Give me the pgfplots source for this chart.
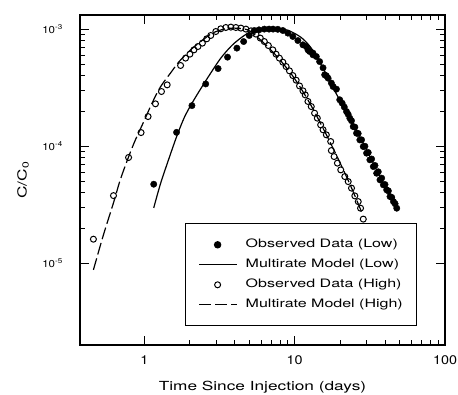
\documentclass[border=0pt]{standalone}
\usepackage{pgfplots}
\pgfplotsset{compat=1.18}
\usepackage{fontspec}
\setmainfont{TeX Gyre Heros}[FakeStretch=1.38]
\newfontfamily\tickfont{TeX Gyre Heros}[FakeStretch=1.15]
\begin{document}
\begin{tikzpicture}
\useasboundingbox (-80pt,-50pt) rectangle (378pt,345pt);
\begin{axis}[
  at={(0,0)}, anchor=south west,
  xmode=log, ymode=log,
  scale only axis, width=365pt, height=330pt,
  xmin=0.373, xmax=100, ymin=2e-6, ymax=1.32e-3,
  axis line style={line width=1.4pt},
  every tick/.style={black, line width=0.8pt},
  major tick length=9pt, minor tick length=5pt,
  tick align=inside, tick pos=both,
  xtick={1,10,100}, xticklabels={1,10,100},
  ytick={1e-5,1e-4,1e-3},
  yticklabels={10\textsuperscript{-5},10\textsuperscript{-4},10\textsuperscript{-3}},
  xticklabel style={font=\tickfont\fontsize{12.5}{14}\selectfont, anchor=base, yshift=-19pt},
  yticklabel style={font=\tickfont\fontsize{10}{12}\selectfont, anchor=east, inner sep=0pt, xshift=-17pt},
  xlabel={Time Since Injection (days)},
  ylabel={C/C\textsubscript{0}},
  label style={font=\fontsize{12.5}{15}\selectfont},
  xlabel style={at={(axis description cs:0.5,-0.1385)}, anchor=base},
  ylabel style={at={(axis description cs:-0.156,0.5)}, anchor=center},
  legend cell align=left,
  legend image code/.code={\draw[mark repeat=2,mark phase=2,#1] plot coordinates {(0pt,0pt) (18.5pt,0pt) (37pt,0pt)};},
  legend style={at={(rel axis cs:0.2877,0.3688)}, anchor=north west,
    draw=black, line width=1pt, font=\fontsize{11.6}{14}\selectfont,
    inner xsep=13pt, inner ysep=14pt, row sep=6pt, column sep=8pt,
    nodes={inner sep=1pt, text height=9pt, text depth=3pt}},
]
% Observed Data (Low)
\addplot[only marks, mark=*, mark size=3.2pt, black] coordinates {
(1.154,4.73e-5) (1.637,1.312e-4) (2.072,2.22e-4) (2.559,3.40e-4) (3.093,4.60e-4)
(3.574,5.76e-4) (4.125,6.88e-4) (4.574,7.83e-4) (4.985,8.82e-4) (5.384,9.73e-4)
(5.788,9.86e-4) (6.281,1.0e-3) (6.751,1.0e-3) (7.180,1.0e-3) (7.72,9.96e-4)
(8.34,9.73e-4) (9.01,9.24e-4) (9.72,8.65e-4) (10.50,7.99e-4) (11.34,7.34e-4)
(11.94,7.10e-4) (12.25,6.65e-4) (12.56,6.44e-4) (13.23,6.24e-4) (13.23,6.03e-4)
(13.93,5.83e-4) (14.65,5.28e-4) (15.44,4.67e-4) (15.83,4.07e-4)
(16.24,3.99e-4) (16.68,3.81e-4) (17.54,3.46e-4) (18.01,3.23e-4) (18.95,3.07e-4) (19.94,2.49e-4)
(20.69,2.33e-4) (21.38,2.158e-4) (22.11,1.977e-4) (22.68,1.873e-4) (23.26,1.735e-4)
(23.88,1.650e-4) (24.51,1.47e-4) (25.14,1.454e-4) (25.79,1.29e-4) (26.45,1.284e-4)
(27.13,1.13e-4) (27.86,1.132e-4) (28.59,9.92e-5) (29.33,9.98e-5) (30.08,8.71e-5)
(30.86,8.82e-5) (31.64,7.64e-5) (32.49,7.77e-5) (33.36,6.69e-5) (34.20,6.84e-5)
(35.10,5.87e-5) (35.98,6.04e-5) (36.92,5.15e-5) (37.90,5.33e-5) (38.90,4.67e-5)
(39.90,4.70e-5) (40.93,4.23e-5) (42.00,4.15e-5) (43.07,3.71e-5) (44.21,3.65e-5)
(45.41,3.36e-5) (46.55,3.22e-5) (47.75,2.95e-5)
};
\addlegendentry{Observed Data (Low)}
% Multirate Model (Low)
\addplot[black, line width=1.2pt, smooth] coordinates {
(1.154,2.97e-5) (1.279,4.76e-5) (1.447,7.64e-5) (1.637,1.201e-4) (1.852,1.779e-4)
(2.137,2.486e-4) (2.627,3.81e-4) (3.224,5.65e-4) (3.860,7.34e-4) (4.616,8.82e-4)
(5.384,9.86e-4) (6.281,1.02e-3) (7.325,1.02e-3) (9.01,9.77e-4) (11.05,8.48e-4)
(12.89,6.88e-4) (15.04,4.95e-4) (17.54,3.34e-4) (20.47,2.34e-4) (23.88,1.645e-4)
(27.86,1.13e-4) (32.49,7.64e-5) (37.90,5.15e-5) (44.21,3.61e-5) (49.0,2.85e-5)
};
\addlegendentry{Multirate Model (Low)}
% Observed Data (High)
\addplot[only marks, mark=o, mark size=3pt, black, mark options={line width=1pt, fill=white}] coordinates {
(0.458,1.603e-5) (0.623,3.78e-5) (0.785,8.0e-5) (0.950,1.306e-4) (1.058,1.79e-4)
(1.185,2.30e-4) (1.299,2.93e-4) (1.418,3.34e-4) (1.741,4.89e-4) (1.880,5.65e-4)
(2.009,6.11e-4) (2.137,6.65e-4) (2.272,7.10e-4) (2.432,7.59e-4) (2.598,8.26e-4)
(2.764,8.82e-4) (2.986,9.54e-4) (3.224,1.006e-3) (3.482,1.032e-3) (3.761,1.040e-3)
(4.061,1.032e-3) (4.386,1.020e-3) (4.738,1.000e-3) (5.117,9.67e-4) (5.528,9.06e-4)
(5.905,8.38e-4) (6.281,7.83e-4) (6.679,7.24e-4) (7.149,6.65e-4) (7.52,6.11e-4)
(7.91,5.65e-4) (8.34,5.22e-4) (8.77,4.79e-4) (9.23,4.40e-4) (9.72,4.01e-4)
(10.23,3.66e-4) (10.77,3.27e-4) (11.35,2.97e-4) (11.75,2.74e-4) (12.25,2.41e-4)
(12.89,2.18e-4) (13.56,1.914e-4) (14.14,1.735e-4) (14.88,1.52e-4) (15.44,1.38e-4)
(16.24,1.249e-4) (17.36,1.095e-4) (17.54,9.17e-5) (18.29,8.15e-5) (19.24,7.16e-5)
(20.25,6.27e-5) (21.54,5.50e-5) (22.70,4.98e-5) (23.88,4.38e-5) (25.12,3.76e-5)
(26.47,3.36e-5) (27.42,2.95e-5) (28.59,2.38e-5)
};
\addlegendentry{Observed Data (High)}
% Multirate Model (High)
\addplot[black, line width=1.2pt, dash pattern=on 12pt off 4pt, smooth] coordinates {
(0.458,8.77e-6) (0.534,1.745e-5) (0.623,3.28e-5) (0.691,5.15e-5) (0.785,8.1e-5)
(0.871,1.13e-4) (0.989,1.613e-4) (1.126,2.34e-4) (1.279,3.21e-4) (1.492,4.21e-4)
(1.696,5.25e-4) (2.031,6.65e-4) (2.37,7.83e-4) (2.837,9.24e-4) (3.391,1.0e-3)
(3.956,1.02e-3) (4.864,9.86e-4) (5.528,8.77e-4) (6.618,7.06e-4) (7.875,5.57e-4)
(9.476,4.15e-4) (11.05,3.09e-4) (12.89,2.21e-4) (15.04,1.52e-4) (17.54,1.026e-4)
(20.47,6.79e-5) (23.88,4.40e-5) (27.86,2.74e-5)
};
\addlegendentry{Multirate Model (High)}
\end{axis}
\end{tikzpicture}
\end{document}
